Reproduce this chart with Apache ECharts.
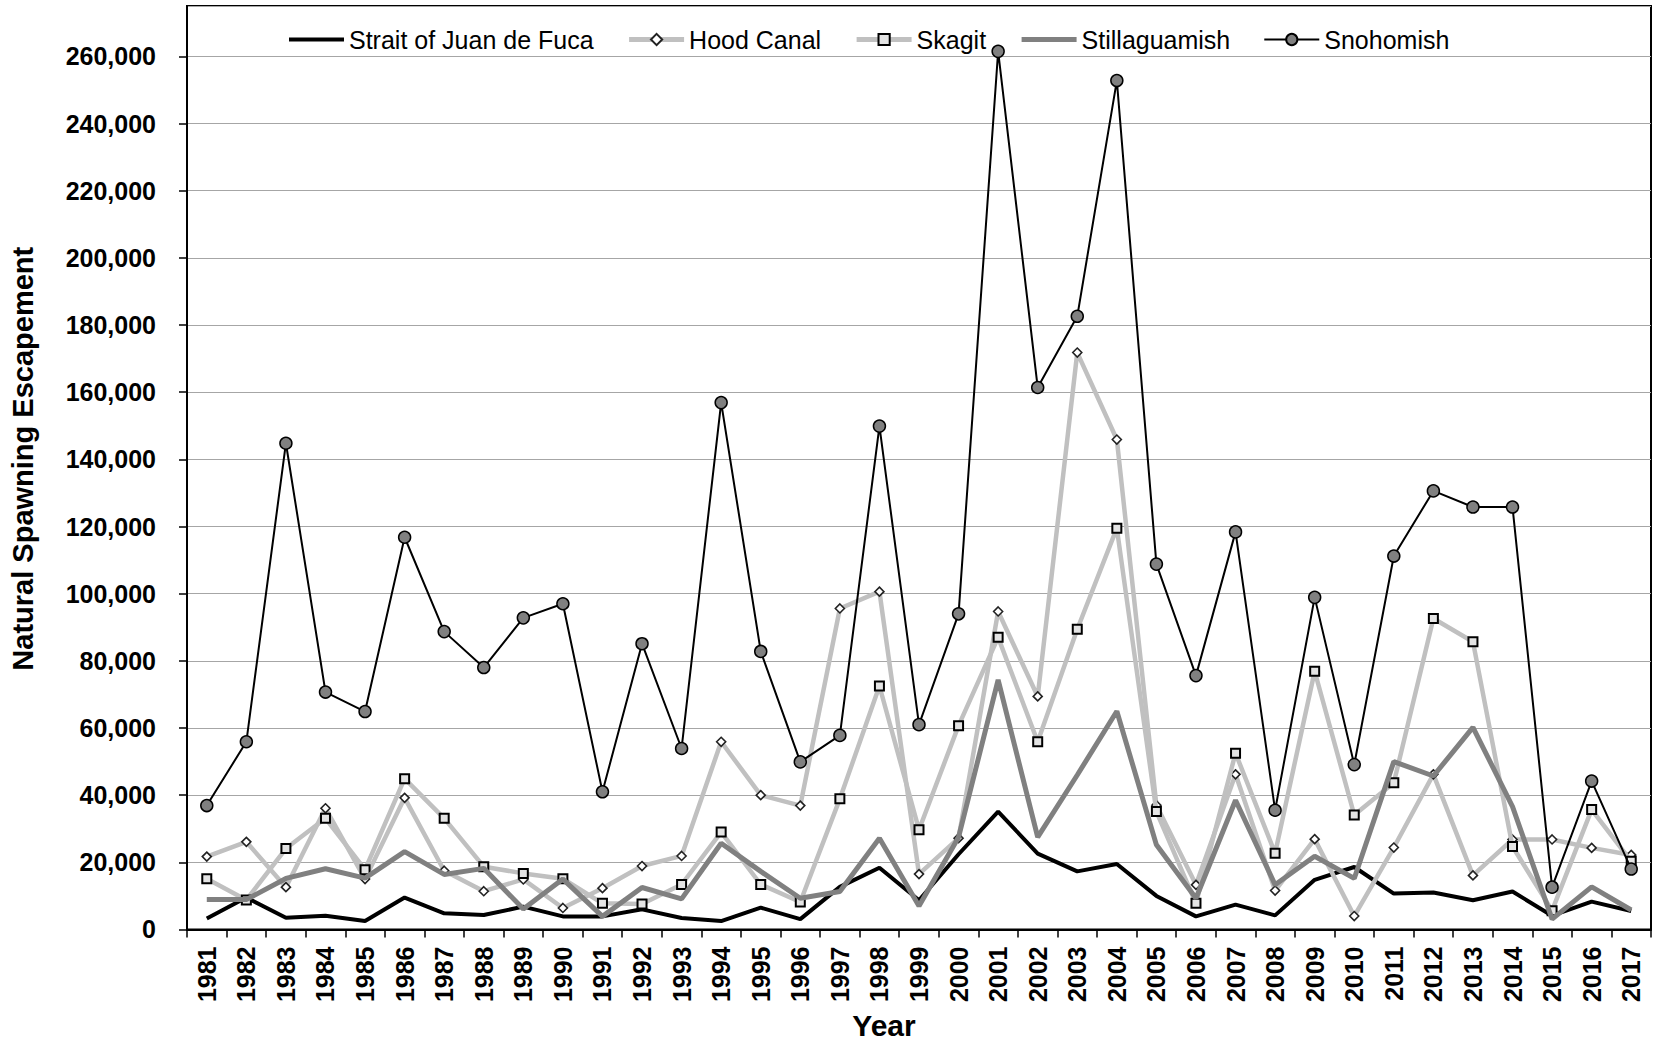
<!DOCTYPE html>
<html>
<head>
<meta charset="utf-8">
<script src="https://cdn.jsdelivr.net/npm/echarts@6/dist/echarts.min.js"></script>
<style>
html,body{margin:0;padding:0;background:#fff;}
#chart{width:1661px;height:1045px;}
</style>
</head>
<body>
<div id="chart"></div>
<script>
const years = ['1981','1982','1983','1984','1985','1986','1987','1988','1989','1990','1991','1992','1993','1994','1995','1996','1997','1998','1999','2000','2001','2002','2003','2004','2005','2006','2007','2008','2009','2010','2011','2012','2013','2014','2015','2016','2017'];

const straitJuanDeFuca = [3300, 9500, 3500, 4100, 2500, 9500, 4800, 4300, 6800, 3900, 3900, 6000, 3400, 2500, 6500, 3100, 12700, 18400, 8700, 22400, 35100, 22600, 17300, 19500, 10000, 3900, 7400, 4200, 14800, 18600, 10700, 11000, 8700, 11300, 4100, 8300, 5500];
const hoodCanal = [21700, 26100, 12600, 36100, 15000, 39200, 17500, 11400, 14900, 6400, 12300, 18900, 21900, 55900, 40000, 36900, 95600, 100600, 16500, 27200, 94700, 69400, 171800, 145900, 37000, 13300, 46200, 11600, 26900, 4000, 24400, 46200, 16100, 26800, 26800, 24300, 22200];
const skagit = [15100, 8800, 24100, 33100, 17800, 44900, 33100, 18700, 16700, 15100, 7800, 7600, 13400, 29000, 13400, 8200, 38900, 72500, 29700, 60700, 87000, 55900, 89400, 119500, 35100, 7800, 52500, 22700, 76900, 34100, 43700, 92600, 85700, 24700, 5600, 35700, 20300];
const stillaguamish = [8900, 8900, 15200, 18100, 15300, 23200, 16400, 18200, 6100, 15000, 3900, 12500, 9100, 25700, 17300, 9300, 11300, 27200, 7000, 27500, 74300, 27500, 46000, 65000, 25200, 9300, 38500, 13300, 21800, 15200, 50000, 45700, 60200, 36600, 3100, 12700, 5800];
const snohomish = [36900, 55900, 144800, 70700, 64900, 116800, 88700, 78000, 92800, 97000, 41000, 85100, 53900, 156900, 82800, 49900, 57800, 149900, 61000, 94000, 261500, 161400, 182600, 252800, 108800, 75600, 118400, 35500, 98900, 49100, 111200, 130600, 125800, 125800, 12600, 44200, 18000];

const yMin = 0, yMax = 275000, yStep = 20000;

const FONT = '"Liberation Sans", Arial, sans-serif';
const chart = echarts.init(document.getElementById('chart'), null, {renderer: 'svg'});

function fmt(v) { return String(v).replace(/\B(?=(\d{3})+(?!\d))/g, ','); }

const option = {
  backgroundColor: '#fff',
  animation: false,
  textStyle: {fontFamily: FONT},
  grid: {left: 187, right: 10, top: 6, bottom: 113, show: true, borderColor: '#000', borderWidth: 2, backgroundColor: 'transparent'},
  legend: {
    left: 282, top: 22, itemGap: 33, itemWidth: 55, itemHeight: 14,
    textStyle: {fontFamily: FONT, fontSize: 25, color: '#000'},
    data: [
      {name: 'Strait of Juan de Fuca', itemStyle: {opacity: 0}, lineStyle: {width: 4, color: '#000'}},
      {name: 'Hood Canal', lineStyle: {width: 5, color: '#c0c0c0'}},
      {name: 'Skagit', lineStyle: {width: 5, color: '#c0c0c0'}},
      {name: 'Stillaguamish', itemStyle: {opacity: 0}, lineStyle: {width: 5, color: '#808080'}},
      {name: 'Snohomish', lineStyle: {width: 2, color: '#000'}}
    ]
  },
  xAxis: {
    type: 'category', data: years, boundaryGap: true,
    name: 'Year', nameLocation: 'middle', nameGap: 80,
    nameTextStyle: {fontFamily: FONT, fontSize: 30, fontWeight: 'bold', color: '#000', padding: [0, 70, 0, 0]},
    axisLine: {lineStyle: {color: '#000', width: 2}},
    axisTick: {show: true, inside: false, length: 8, interval: 0, lineStyle: {color: '#000', width: 1.5}},
    axisLabel: {interval: 0, rotate: 90, margin: 17, fontFamily: FONT, fontSize: 25, fontWeight: 'bold', color: '#000'},
    splitLine: {show: false}
  },
  yAxis: {
    type: 'value', min: yMin, max: yMax, interval: yStep,
    name: 'Natural Spawning Escapement', nameLocation: 'middle', nameGap: 150, nameRotate: 90,
    nameTextStyle: {fontFamily: FONT, fontSize: 29, fontWeight: 'bold', color: '#000', padding: [0, 0, 0, 18]},
    axisLine: {show: true, lineStyle: {color: '#000', width: 2}},
    axisTick: {show: true, inside: false, length: 8, lineStyle: {color: '#000', width: 1.5}},
    axisLabel: {margin: 31, fontFamily: FONT, fontSize: 25, fontWeight: 'bold', color: '#000', showMaxLabel: false, formatter: fmt},
    splitLine: {show: true, lineStyle: {color: '#a6a6a6', width: 1.2}}
  },
  series: [
    {name: 'Strait of Juan de Fuca', type: 'line', data: straitJuanDeFuca, showSymbol: false, symbol: 'none',
     lineStyle: {color: '#000', width: 4}, itemStyle: {color: '#000'}, z: 2},
    {name: 'Hood Canal', type: 'line', data: hoodCanal, symbol: 'diamond', symbolSize: [9, 9],
     lineStyle: {color: '#c0c0c0', width: 4.5}, itemStyle: {color: '#ffffff', borderColor: '#222', borderWidth: 1.6}, z: 3},
    {name: 'Skagit', type: 'line', data: skagit, symbol: 'rect', symbolSize: 9,
     lineStyle: {color: '#c0c0c0', width: 4.5}, itemStyle: {color: '#e4e4e4', borderColor: '#000', borderWidth: 2}, z: 4},
    {name: 'Stillaguamish', type: 'line', data: stillaguamish, showSymbol: false, symbol: 'none',
     lineStyle: {color: '#808080', width: 5}, itemStyle: {color: '#808080'}, z: 5},
    {name: 'Snohomish', type: 'line', data: snohomish, symbol: 'circle', symbolSize: 12,
     lineStyle: {color: '#000', width: 2}, itemStyle: {color: '#808080', borderColor: '#000', borderWidth: 1.5}, z: 6}
  ]
};
chart.setOption(option);
</script>
</body>
</html>
